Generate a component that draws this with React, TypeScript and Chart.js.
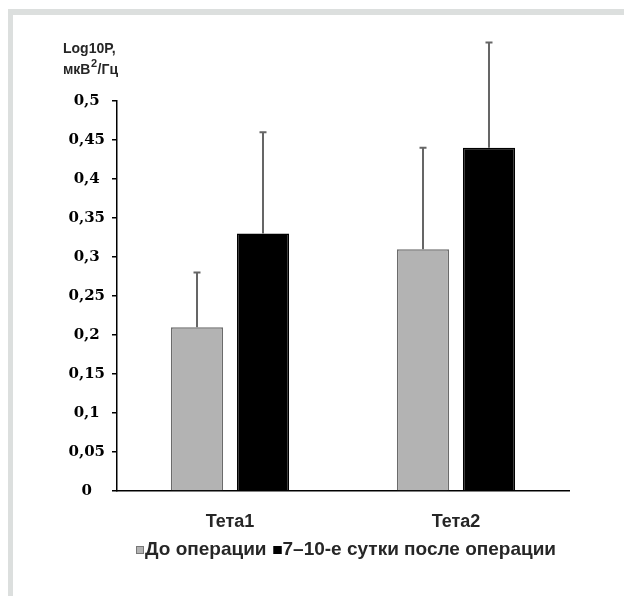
import React, { useEffect, useRef } from "react";
import { Chart, registerables } from "chart.js";

Chart.register(...registerables);

const categories = ["Тета1", "Тета2"];
const seriesLabels = ["До операции", "7–10-е сутки после операции"];
const beforeValues = [0.21, 0.31];
const beforeErrors = [0.07, 0.13];
const afterValues = [0.33, 0.44];
const afterErrors = [0.13, 0.135];
const yTitleLine1 = "Log10P,";
const yTitleLine2 = ["мкВ", "2", "/Гц"];

const SANS = "'Liberation Sans', Arial, sans-serif";
const SERIF = "'DejaVu Serif', 'Liberation Serif', serif";
const TEXT = "#262626";

const errorBarsPlugin = {
  id: "errorBars",
  afterDatasetsDraw(chart: any) {
    const ctx = chart.ctx;
    const yScale = chart.scales.y;
    chart.data.datasets.forEach((ds: any, i: number) => {
      const meta = chart.getDatasetMeta(i);
      const errs: number[] = ds.errors || [];
      meta.data.forEach((bar: any, j: number) => {
        const v = ds.data[j];
        const top = yScale.getPixelForValue(v + errs[j]);
        ctx.save();
        ctx.strokeStyle = "#666666";
        ctx.lineWidth = 2;
        ctx.beginPath();
        ctx.moveTo(bar.x, bar.y);
        ctx.lineTo(bar.x, top);
        ctx.moveTo(bar.x - 3.5, top);
        ctx.lineTo(bar.x + 3.5, top);
        ctx.stroke();
        ctx.restore();
      });
    });
  },
};

const textPlugin = {
  id: "extraText",
  afterDraw(chart: any) {
    const ctx = chart.ctx;
    ctx.save();
    // axis title
    ctx.fillStyle = TEXT;
    ctx.textAlign = "left";
    ctx.textBaseline = "alphabetic";
    ctx.font = `bold 14px ${SANS}`;
    const tx = 50;
    ctx.fillText(yTitleLine1, tx, 38);
    let x = tx;
    ctx.fillText(yTitleLine2[0], x, 59);
    x += ctx.measureText(yTitleLine2[0]).width;
    ctx.font = `bold 11px ${SANS}`;
    ctx.fillText(yTitleLine2[1], x + 0.5, 52);
    x += ctx.measureText(yTitleLine2[1]).width + 1;
    ctx.font = `bold 14px ${SANS}`;
    ctx.fillText(yTitleLine2[2], x, 59);

    // legend
    ctx.font = `bold 19px ${SANS}`;
    ctx.textBaseline = "middle";
    let lx = 123;
    const ly = 535;
    const box = 8;
    chart.data.datasets.forEach((ds: any, i: number) => {
      ctx.fillStyle = ds.backgroundColor;
      ctx.fillRect(lx, ly - box / 2, box, box);
      ctx.strokeStyle = i === 0 ? "#777" : "#000";
      ctx.lineWidth = 1;
      ctx.strokeRect(lx + 0.5, ly - box / 2 + 0.5, box - 1, box - 1);
      lx += box + 1;
      ctx.fillStyle = TEXT;
      ctx.fillText(ds.label, lx, ly);
      lx += ctx.measureText(ds.label).width + 7;
    });
    ctx.restore();
  },
};

export default function App() {
  const ref = useRef<HTMLCanvasElement>(null);
  useEffect(() => {
    if (!ref.current) return;
    const chart = new Chart(ref.current, {
      type: "bar",
      data: {
        labels: categories,
        datasets: [
          {
            label: seriesLabels[0],
            data: beforeValues,
            errors: beforeErrors,
            backgroundColor: "#b3b3b3",
            borderColor: "#6b6b6b",
            borderWidth: 1.5,
          } as any,
          {
            label: seriesLabels[1],
            data: afterValues,
            errors: afterErrors,
            backgroundColor: "#000000",
            borderColor: "#000000",
            borderWidth: 1.5,
          } as any,
        ],
      },
      options: {
        responsive: false,
        animation: false,
        devicePixelRatio: 1,
        layout: { padding: { top: 86, right: 55, left: 0, bottom: 0 } },
        datasets: {
          bar: { categoryPercentage: 0.584, barPercentage: 0.79 },
        },
        plugins: {
          legend: { display: false },
          tooltip: { enabled: false },
        },
        scales: {
          x: {
            grid: { display: false, drawTicks: false },
            border: { display: true, color: "#000", width: 1.5 },
            ticks: {
              color: TEXT,
              font: { family: SANS, size: 18, weight: "bold" },
              padding: 20,
            },
            afterFit: (s: any) => {
              s.height = 105;
            },
          },
          y: {
            min: 0,
            max: 0.5,
            grid: {
              drawOnChartArea: false,
              drawTicks: true,
              tickLength: 5,
              color: "#000",
              lineWidth: 1.5,
            },
            border: { display: true, color: "#000", width: 1.5 },
            ticks: {
              stepSize: 0.05,
              crossAlign: "center",
              padding: 7,
              color: "#000",
              font: { family: SERIF, size: 15, weight: "bold" },
              callback: (v: any) =>
                parseFloat(Number(v).toFixed(2)).toString().replace(".", ","),
            },
            afterFit: (s: any) => {
              s.width = 104;
            },
          },
        },
      } as any,
      plugins: [errorBarsPlugin, textPlugin],
    });
    return () => chart.destroy();
  }, []);

  return (
    <div
      style={{
        position: "absolute",
        left: 8,
        top: 9,
        width: 616,
        height: 587,
        boxSizing: "border-box",
        borderTop: "6px solid #dcdfde",
        borderLeft: "5px solid #dcdfde",
        background: "#fff",
      }}
    >
      <canvas ref={ref} width={611} height={581} style={{ display: "block" }} />
    </div>
  );
}
